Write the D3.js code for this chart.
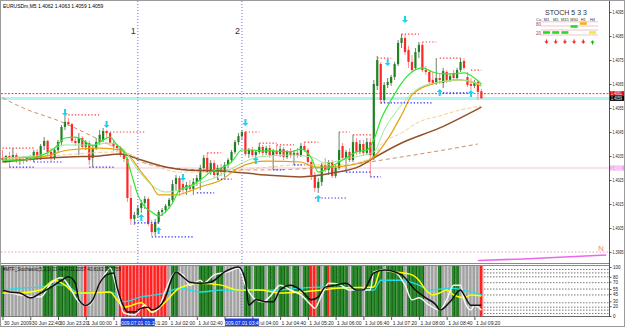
<!DOCTYPE html>
<html>
<head>
<meta charset="utf-8">
<script src="https://cdn.jsdelivr.net/npm/d3@7"></script>
<style>
  html, body { margin: 0; padding: 0; background: #fff; }
  svg { display: block; font-family: "Liberation Sans", Arial, sans-serif; }
</style>
</head>
<body>
<div id="chart"></div>
<script>
// EURUSDm M5, 30 Jun 22:00 -> 1 Jul 09:30, one entry per bar
const opens = [1.40342,1.40333,1.40350,1.40342,1.40354,1.40329,1.40338,1.40333,1.40342,1.40338,
  1.40367,1.40342,1.40392,1.40413,1.40367,1.40342,1.40375,1.40408,1.40471,1.40492,
  1.40483,1.40413,1.40404,1.40425,1.40388,1.40404,1.40342,1.40383,1.40408,1.40417,
  1.40454,1.40446,1.40404,1.40392,1.40383,1.40354,1.40338,1.40175,1.40088,1.40104,
  1.40133,1.40154,1.40171,1.40067,1.40033,1.40075,1.40117,1.40125,1.40142,1.40167,
  1.40233,1.40258,1.40233,1.40208,1.40229,1.40213,1.40242,1.40250,1.40300,1.40342,
  1.40283,1.40321,1.40271,1.40300,1.40283,1.40313,1.40333,1.40367,1.40408,1.40433,
  1.40450,1.40358,1.40375,1.40354,1.40367,1.40388,1.40363,1.40383,1.40354,1.40371,
  1.40358,1.40379,1.40346,1.40367,1.40354,1.40363,1.40354,1.40392,1.40375,1.40325,
  1.40271,1.40217,1.40242,1.40313,1.40292,1.40325,1.40267,1.40300,1.40392,1.40342,
  1.40367,1.40333,1.40408,1.40367,1.40400,1.40363,1.40408,1.40342,1.40642,1.40733,
  1.40583,1.40646,1.40654,1.40679,1.40733,1.40821,1.40842,1.40792,1.40742,1.40717,
  1.40783,1.40813,1.40708,1.40700,1.40667,1.40654,1.40675,1.40654,1.40700,1.40667,
  1.40696,1.40675,1.40708,1.40746,1.40679,1.40650,1.40642,1.40658,1.40620];
const highs = [1.40375,1.40354,1.40367,1.40383,1.40363,1.40346,1.40350,1.40346,1.40354,1.40375,
  1.40379,1.40400,1.40429,1.40417,1.40383,1.40383,1.40417,1.40479,1.40517,1.40508,
  1.40488,1.40425,1.40446,1.40433,1.40417,1.40413,1.40396,1.40425,1.40458,1.40467,
  1.40458,1.40450,1.40417,1.40400,1.40392,1.40375,1.40346,1.40229,1.40117,1.40146,
  1.40167,1.40183,1.40179,1.40083,1.40088,1.40125,1.40133,1.40150,1.40175,1.40250,
  1.40271,1.40267,1.40246,1.40242,1.40250,1.40258,1.40271,1.40313,1.40354,1.40363,
  1.40333,1.40333,1.40313,1.40317,1.40325,1.40342,1.40375,1.40417,1.40446,1.40458,
  1.40454,1.40383,1.40388,1.40375,1.40404,1.40396,1.40392,1.40396,1.40379,1.40396,
  1.40392,1.40388,1.40375,1.40383,1.40375,1.40383,1.40404,1.40408,1.40383,1.40333,
  1.40283,1.40258,1.40321,1.40342,1.40333,1.40333,1.40313,1.40450,1.40404,1.40375,
  1.40383,1.40438,1.40425,1.40417,1.40417,1.40425,1.40425,1.40667,1.40767,1.40742,
  1.40658,1.40675,1.40688,1.40742,1.40833,1.40858,1.40854,1.40808,1.40771,1.40800,
  1.40825,1.40825,1.40725,1.40708,1.40700,1.40758,1.40692,1.40717,1.40708,1.40692,
  1.40708,1.40717,1.40758,1.40758,1.40700,1.40675,1.40667,1.40667,1.40630];
const lows = [1.40325,1.40321,1.40304,1.40333,1.40321,1.40313,1.40317,1.40325,1.40329,1.40325,
  1.40333,1.40333,1.40375,1.40354,1.40325,1.40333,1.40367,1.40396,1.40458,1.40475,
  1.40404,1.40392,1.40354,1.40379,1.40375,1.40313,1.40304,1.40375,1.40396,1.40408,
  1.40429,1.40392,1.40371,1.40367,1.40346,1.40325,1.40158,1.40063,1.40063,1.40092,
  1.40113,1.40129,1.40058,1.40017,1.40017,1.40067,1.40100,1.40113,1.40129,1.40158,
  1.40208,1.40183,1.40196,1.40188,1.40200,1.40188,1.40225,1.40208,1.40283,1.40271,
  1.40271,1.40258,1.40250,1.40267,1.40263,1.40300,1.40321,1.40358,1.40396,1.40417,
  1.40350,1.40342,1.40346,1.40342,1.40358,1.40350,1.40354,1.40342,1.40292,1.40350,
  1.40346,1.40333,1.40338,1.40342,1.40313,1.40342,1.40346,1.40367,1.40308,1.40250,
  1.40200,1.40196,1.40225,1.40283,1.40271,1.40258,1.40258,1.40292,1.40333,1.40283,
  1.40325,1.40325,1.40354,1.40358,1.40350,1.40354,1.40263,1.40333,1.40625,1.40567,
  1.40571,1.40633,1.40642,1.40667,1.40725,1.40800,1.40771,1.40717,1.40700,1.40708,
  1.40758,1.40700,1.40688,1.40650,1.40646,1.40646,1.40650,1.40633,1.40654,1.40658,
  1.40667,1.40667,1.40700,1.40708,1.40638,1.40625,1.40633,1.40583,1.40590];
const closes = [1.40333,1.40350,1.40342,1.40354,1.40329,1.40338,1.40333,1.40342,1.40338,1.40367,
  1.40342,1.40392,1.40413,1.40367,1.40342,1.40375,1.40408,1.40471,1.40492,1.40483,
  1.40413,1.40404,1.40425,1.40388,1.40408,1.40333,1.40383,1.40408,1.40438,1.40454,
  1.40446,1.40404,1.40392,1.40383,1.40354,1.40338,1.40175,1.40088,1.40104,1.40133,
  1.40154,1.40171,1.40067,1.40033,1.40075,1.40117,1.40125,1.40142,1.40167,1.40233,
  1.40258,1.40200,1.40208,1.40229,1.40213,1.40242,1.40258,1.40300,1.40342,1.40283,
  1.40321,1.40271,1.40300,1.40283,1.40313,1.40333,1.40367,1.40408,1.40433,1.40450,
  1.40358,1.40375,1.40354,1.40367,1.40388,1.40363,1.40383,1.40354,1.40371,1.40358,
  1.40379,1.40346,1.40367,1.40354,1.40363,1.40354,1.40392,1.40375,1.40325,1.40271,
  1.40217,1.40242,1.40313,1.40292,1.40325,1.40267,1.40300,1.40375,1.40342,1.40367,
  1.40333,1.40408,1.40367,1.40400,1.40363,1.40408,1.40354,1.40650,1.40750,1.40583,
  1.40646,1.40658,1.40679,1.40733,1.40821,1.40842,1.40783,1.40742,1.40708,1.40783,
  1.40813,1.40708,1.40700,1.40658,1.40654,1.40675,1.40667,1.40704,1.40667,1.40683,
  1.40675,1.40708,1.40742,1.40717,1.40646,1.40642,1.40658,1.40617,1.40590];

// moving averages as [bar, price]
const maFast = [[0,1.40333],[5,1.40333],[11,1.40350],[15,1.40383],[18,1.40425],[21,1.40429],[24,1.40408],[26,1.40392],
  [28,1.40408],[31,1.40429],[33,1.40396],[35,1.40367],[37,1.40283],[39,1.40188],[41,1.40138],[43,1.40117],[45,1.40100],
  [47,1.40117],[49,1.40154],[51,1.40208],[54,1.40225],[57,1.40250],[60,1.40283],[63,1.40300],[66,1.40325],[69,1.40375],
  [72,1.40375],[75,1.40371],[78,1.40371],[83,1.40367],[86,1.40379],[89,1.40342],[91,1.40283],[93,1.40292],[96,1.40317],
  [99,1.40342],[102,1.40367],[105,1.40375],[107,1.40417],[109,1.40500],[112,1.40583],[115,1.40654],[118,1.40700],
  [121,1.40717],[124,1.40700],[127,1.40692],[130,1.40692],[133,1.40696],[136,1.40675],[138,1.40650]];
const maPale = [[0,1.40342],[11,1.40354],[18,1.40396],[25,1.40396],[31,1.40404],[35,1.40375],[39,1.40292],[43,1.40229],
  [47,1.40200],[51,1.40208],[57,1.40238],[63,1.40271],[68,1.40313],[74,1.40346],[83,1.40354],[89,1.40346],[93,1.40321],
  [100,1.40342],[107,1.40367],[110,1.40458],[115,1.40563],[120,1.40633],[126,1.40658],[132,1.40667],[138,1.40646]];
const maOrange = [[0,1.40342],[11,1.40346],[19,1.40375],[28,1.40383],[34,1.40375],[37,1.40342],[40,1.40283],[43,1.40229],
  [45,1.40188],[50,1.40188],[54,1.40204],[57,1.40221],[63,1.40250],[68,1.40300],[76,1.40329],[86,1.40325],[90,1.40304],
  [95,1.40304],[103,1.40321],[107,1.40346],[111,1.40420],[115,1.40521],[118,1.40604],[124,1.40650],[132,1.40667],[138,1.40642]];
const maTan = [[0,1.40333],[17,1.40354],[34,1.40367],[43,1.40313],[51,1.40283],[63,1.40283],[74,1.40300],[86,1.40313],
  [97,1.40313],[107,1.40346],[109,1.40396],[115,1.40446],[120,1.40492],[126,1.40517],[132,1.40542],[138,1.40558]];
const maBrown = [[0,1.40325],[9,1.40338],[19,1.40346],[28,1.40350],[34,1.40358],[40,1.40333],[47,1.40304],[53,1.40292],
  [63,1.40288],[76,1.40271],[86,1.40263],[95,1.40279],[103,1.40308],[107,1.40342],[115,1.40404],[126,1.40467],[138,1.40554]];
const maSlow = [[0,1.40592],[6,1.40550],[17,1.40492],[28,1.40417],[35,1.40367],[40,1.40325],[49,1.40300],[59,1.40292],
  [74,1.40292],[94,1.40304],[115,1.40346],[137,1.40400]];

// fractal levels [fromBar, toBar, price]
const resLevels = [[0,9,1.40383],[18,28,1.40521],[30,41,1.40450],[59,63,1.40363],[70,74,1.40450],[74,79,1.40404],
  [79,84,1.40396],[87,91,1.40408],[97,100,1.40450],[101,107,1.40438],[108,112,1.40758],[115,120,1.40858],
  [121,125,1.40825],[126,132,1.40758],[135,138,1.40708]];
const supLevels = [[2,9,1.40304],[9,17,1.40325],[25,32,1.40304],[38,45,1.40071],[43,55,1.40013],[56,61,1.40196],
  [62,66,1.40254],[78,81,1.40292],[84,87,1.40313],[90,99,1.40175],[99,106,1.40283],[106,109,1.40263],
  [109,124,1.40571],[126,135,1.40613]];

const downArrowBars = [18, 30, 52, 70, 111, 116];
const downArrowPrices = [1.40529, 1.40479, 1.40258, 1.40488, 1.40738, 1.40917];
const upArrowBars = [40, 45, 73, 91, 126, 135];
const upArrowPrices = [1.40096, 1.40042, 1.40333, 1.40175, 1.40617, 1.40613];

const bidPrice = 1.4059;
const askPrice = 1.4061;
const levelPrice = 1.4030;
const pivotPrice = 1.3995;
const magentaPts = [[137,1.39915],[150,1.39921],[162,1.39929],[174,1.39938]];

const priceTicks = [1.4095, 1.4085, 1.4075, 1.4065, 1.4055, 1.4045, 1.4035, 1.4025, 1.4015, 1.4005, 1.3995];
const timeTicks = [0, 8, 16, 24, 32, 40, 48, 56, 64, 72, 80, 88, 96, 104, 112, 120, 128, 136];
const timeLabels = ["30 Jun 2009", "30 Jun 22:40", "30 Jun 23:20", "1 Jul 00:00", "1 Jul 00:40", "1 Jul 01:20",
  "1 Jul 02:00", "1 Jul 02:40", "1 Jul 03:20", "1 Jul 04:00", "1 Jul 04:40", "1 Jul 05:20", "1 Jul 06:00",
  "1 Jul 06:40", "1 Jul 07:20", "1 Jul 08:00", "1 Jul 08:40", "1 Jul 09:20"];
const vlineBars = [39, 69];
const vlineNames = ["1", "2"];
const vlineTimes = ["2009.07.01 01:15", "2009.07.01 03:45"];

// stochastic window
const stochBlack = [[0,53],[2,49],[5,47],[8,37],[11,47],[14,59],[17,73],[19,80],[21,67],[22,33],[24,22],[26,33],[28,67],
  [30,84],[32,88],[33,59],[35,18],[36,8],[38,8],[40,16],[42,18],[43,12],[45,18],[47,39],[49,80],[50,90],[52,80],[54,69],
  [57,67],[60,69],[64,90],[68,100],[70,73],[71,22],[73,33],[76,29],[78,29],[80,53],[83,63],[86,53],[89,33],[91,39],
  [93,59],[96,63],[99,67],[102,53],[104,53],[107,88],[110,94],[115,84],[119,53],[122,37],[125,22],[126,12],[129,29],
  [132,53],[133,43],[135,22],[138,22]];
const stochWhite = [[0,53],[5,43],[11,39],[14,67],[17,78],[19,63],[22,29],[25,22],[28,67],[30,90],[31,98],[33,53],[35,6],
  [38,2],[41,22],[43,8],[45,16],[47,53],[50,90],[52,84],[54,63],[57,73],[58,67],[61,84],[65,90],[68,98],[70,63],[73,33],
  [75,29],[77,39],[80,63],[83,53],[86,43],[89,22],[90,16],[92,43],[94,67],[97,65],[100,53],[106,53],[107,90],[110,94],
  [113,90],[116,63],[118,33],[120,37],[123,22],[126,12],[128,33],[130,63],[132,63],[133,33],[135,12],[136,22],[138,12]];
const stochYellow = [[0,47],[5,47],[11,53],[15,73],[18,63],[21,47],[25,47],[31,49],[33,33],[35,18],[40,27],[43,8],[45,16],
  [47,29],[51,57],[57,67],[63,63],[68,53],[74,53],[80,47],[86,49],[92,53],[97,57],[107,59],[109,94],[113,90],[118,84],
  [120,73],[122,53],[124,43],[126,47],[128,53],[130,43],[133,37],[135,43],[138,41]];
const stochCyan = [[0,53],[5,57],[11,59],[15,63],[18,63],[22,47],[28,49],[32,47],[35,29],[40,39],[44,43],[47,47],[51,57],
  [57,49],[63,53],[68,53],[74,53],[80,53],[86,57],[92,59],[97,57],[103,53],[107,53],[109,73],[115,73],[120,63],[123,53],
  [129,57],[135,49],[138,43]];
// background state per bar: g = green, s = grey, r = red
const stripeRuns = [["g",1],["s",11],["g",3],["s",1],["g",6],["s",2],["r",1],["s",5],["g",3],["s",1],["r",14],["s",1],
  ["g",2],["s",6],["g",4],["s",1],["g",2],["s",6],["g",2],["s",1],["g",3],["s",1],["g",2],["s",1],["g",3],["s",1],
  ["g",2],["s",1],["g",2],["r",2],["g",1],["s",1],["g",1],["r",1],["g",5],["s",1],["g",3],["s",1],["g",2],["g",3],
  ["s",1],["g",5],["s",1],["g",5],["s",4],["g",1],["s",3],["g",2],["s",6],["r",1]];
const stochLevels = [95, 88, 80, 68, 55, 43, 27, 18, 12, 5];
const stochLabels = [100, 80, 70, 55, 45, 30, 20, 0];

// multi timeframe STOCH panel
const legendTfs = ["M1", "M5", "M15", "M30", "H1", "H4"];
const legendLevel = [20, 20, 20, 60, 80, 20];
const legendColors = ["#22dd22", "#22dd22", "#22dd22", "#22dd22", "#f0b020", "#eeee30"];
const legendDirs = ["down", "down", "down", "down", "down", "up"];

const W = 625, H = 327;
const axisX = 609;

const x = d3.scaleLinear().domain([0, 138]).range([2.5, 2.5 + 138 * 3.47]);
const y = d3.scaleLinear().domain([1.3995, 1.4095]).range([252, 12]);
const ys = d3.scaleLinear().domain([0, 100]).range([316, 267]);
const step = 3.47;

const svg = d3.select("#chart").append("svg").attr("width", W).attr("height", H);
svg.append("rect").attr("width", W).attr("height", H).attr("fill", "#fff");

const defs = svg.append("defs");
defs.append("clipPath").attr("id", "clipMain").append("rect")
  .attr("x", 1).attr("y", 1).attr("width", axisX - 1).attr("height", 262);
defs.append("clipPath").attr("id", "clipSub").append("rect")
  .attr("x", 1).attr("y", 266).attr("width", axisX - 1).attr("height", 50.5);

const main = svg.append("g").attr("clip-path", "url(#clipMain)");

function hline(g, price, color, width, dash) {
  g.append("line")
    .attr("x1", 1).attr("x2", axisX)
    .attr("y1", y(price)).attr("y2", y(price))
    .attr("stroke", color).attr("stroke-width", width)
    .attr("stroke-dasharray", dash || null);
}

hline(main, levelPrice, "#f3c4d6", 1);
hline(main, pivotPrice, "#e7a0a6", 1, "1.5,2");
hline(main, bidPrice, "#b4f2f4", 3);
hline(main, askPrice, "#ff3a3a", 1, "2,1.5");

main.append("path")
  .attr("d", d3.line().x(d => x(d[0])).y(d => y(d[1]))(magentaPts))
  .attr("fill", "none").attr("stroke", "#ee66ee").attr("stroke-width", 1.5);
main.append("text").attr("x", 598).attr("y", 251).attr("font-size", "8px")
  .attr("fill", "#e08a8a").text("N");

// candles
const bars = opens.map((o, i) => ({ i, o, h: highs[i], l: lows[i], c: closes[i] }));
main.selectAll("line.wick").data(bars).join("line")
  .attr("class", "wick")
  .attr("x1", d => x(d.i)).attr("x2", d => x(d.i))
  .attr("y1", d => y(d.h)).attr("y2", d => y(d.l))
  .attr("stroke", d => d.c >= d.o ? "#6f806f" : "#ff8c8c")
  .attr("stroke-width", 1);
main.selectAll("rect.body").data(bars).join("rect")
  .attr("class", "body")
  .attr("x", d => x(d.i) - 1.1)
  .attr("width", 2.2)
  .attr("y", d => y(Math.max(d.o, d.c)))
  .attr("height", d => Math.max(1, Math.abs(y(d.o) - y(d.c))))
  .attr("fill", d => d.c >= d.o ? "#1f821f" : "#ff2828");

// moving averages
const maLine = d3.line().x(d => x(d[0])).y(d => y(d[1])).curve(d3.curveMonotoneX);
const maStyles = [
  [maSlow, "#c9906f", 1, "4,3"],
  [maTan, "#f4cf92", 1, "4,2"],
  [maBrown, "#93502a", 1.5, null],
  [maOrange, "#e6a10c", 1.2, null],
  [maPale, "#9be89b", 1, null],
  [maFast, "#2fe82f", 1.2, null]
];
maStyles.forEach(([pts, color, w, dash]) => {
  main.append("path")
    .attr("d", maLine(pts))
    .attr("fill", "none")
    .attr("stroke", color)
    .attr("stroke-width", w)
    .attr("stroke-dasharray", dash);
});

// fractal levels
main.selectAll("line.res").data(resLevels).join("line")
  .attr("x1", d => x(d[0])).attr("x2", d => x(d[1]))
  .attr("y1", d => y(d[2])).attr("y2", d => y(d[2]))
  .attr("stroke", "#ff3838").attr("stroke-width", 1.2).attr("stroke-dasharray", "1.3,2");
main.selectAll("line.sup").data(supLevels).join("line")
  .attr("x1", d => x(d[0])).attr("x2", d => x(d[1]))
  .attr("y1", d => y(d[2])).attr("y2", d => y(d[2]))
  .attr("stroke", "#2c2cff").attr("stroke-width", 1.2).attr("stroke-dasharray", "1.3,2");

// arrows
function arrowPath(cx, cy, down) {
  const s = down ? 1 : -1;
  return `M${cx - 1},${cy - 4 * s} h2 v${4 * s} h2 l-3,${3 * s} l-3,${-3 * s} h2 z`;
}
downArrowBars.forEach((b, k) => {
  main.append("path").attr("d", arrowPath(x(b), y(downArrowPrices[k]), true)).attr("fill", "#19d3ef");
});
upArrowBars.forEach((b, k) => {
  main.append("path").attr("d", arrowPath(x(b), y(upArrowPrices[k]), false)).attr("fill", "#19d3ef");
});

// window separators
[263.5, 265.5].forEach(yy => {
  svg.append("line").attr("x1", 0).attr("x2", axisX).attr("y1", yy).attr("y2", yy)
    .attr("stroke", "#8a8a8a").attr("stroke-width", 1);
});
svg.append("line").attr("x1", 0).attr("x2", axisX).attr("y1", 316.5).attr("y2", 316.5)
  .attr("stroke", "#666").attr("stroke-width", 1);

// stochastic sub window
const sub = svg.append("g").attr("clip-path", "url(#clipSub)");
stochLevels.forEach(v => {
  sub.append("line").attr("x1", 1).attr("x2", axisX)
    .attr("y1", ys(v)).attr("y2", ys(v))
    .attr("stroke", "#555").attr("stroke-width", 0.8).attr("stroke-dasharray", "1.5,1.5");
});
const states = stripeRuns.flatMap(([s, n]) => Array(n).fill(s));
const baseColor = { g: "#2b8a2b", s: "#a2a2a2", r: "#ff2020" };
const stripeColor = { g: "#175c17", s: "#d6d6d6", r: "#ff9a9a" };
sub.selectAll("rect.col").data(states).join("rect")
  .attr("x", (d, i) => x(i) - step / 2)
  .attr("y", 266).attr("width", step + 0.1).attr("height", 50.5)
  .attr("fill", d => baseColor[d]);
sub.selectAll("rect.stripe").data(states).join("rect")
  .attr("x", (d, i) => x(i) + 0.6)
  .attr("y", 266).attr("width", 0.9).attr("height", 50.5)
  .attr("fill", d => stripeColor[d]);

// vertical lines cross both windows
vlineBars.forEach((b, k) => {
  svg.append("line").attr("x1", x(b)).attr("x2", x(b)).attr("y1", 1).attr("y2", 317)
    .attr("stroke", "#6c6cff").attr("stroke-width", 1).attr("stroke-dasharray", "1,2");
  svg.append("text").attr("x", x(b) - 7).attr("y", 34).attr("font-size", "9px")
    .attr("fill", "#333").text(vlineNames[k]);
});

const stLine = d3.line().x(d => x(d[0])).y(d => ys(d[1])).curve(d3.curveMonotoneX);
[[stochCyan, "#22dde6", 1.3], [stochYellow, "#ffff00", 1.5], [stochWhite, "#f5f5f5", 1.5], [stochBlack, "#111", 1.5]]
  .forEach(([pts, color, w]) => {
    sub.append("path").attr("d", stLine(pts))
      .attr("fill", "none").attr("stroke", color).attr("stroke-width", w);
  });

svg.append("text").attr("x", 3).attr("y", 271).attr("font-size", "4.5px").attr("fill", "#111")
  .text("#MTF_Stochastic(5,3,3)  23.4043  31.2057  40.8163  38.7755");

// price axis
svg.append("line").attr("x1", axisX + 0.5).attr("x2", axisX + 0.5).attr("y1", 0).attr("y2", 317)
  .attr("stroke", "#555");
const yAxis = svg.append("g").attr("transform", `translate(${axisX + 0.5},0)`)
  .call(d3.axisRight(y).tickValues(priceTicks).tickFormat(d3.format(".4f")).tickSize(2).tickPadding(1));
yAxis.select(".domain").remove();
yAxis.selectAll("text").attr("font-size", "4.6px").attr("fill", "#222")
  .attr("textLength", 11).attr("lengthAdjust", "spacingAndGlyphs");
yAxis.selectAll("line").attr("stroke", "#555");

const sAxis = svg.append("g").attr("transform", `translate(${axisX + 0.5},0)`)
  .call(d3.axisRight(ys).tickValues(stochLabels).tickFormat(d3.format("d")).tickSize(2).tickPadding(1.5));
sAxis.select(".domain").remove();
sAxis.selectAll("text").attr("font-size", "4.5px").attr("fill", "#222");
sAxis.selectAll("line").attr("stroke", "#555");

function priceTag(price, bg, fg, label) {
  svg.append("rect").attr("x", axisX + 1).attr("y", y(price) - 2.5).attr("width", 14.5).attr("height", 5)
    .attr("fill", bg);
  svg.append("text").attr("x", axisX + 2).attr("y", y(price) + 1.7).attr("font-size", "4.6px")
    .attr("textLength", 11).attr("lengthAdjust", "spacingAndGlyphs")
    .attr("fill", fg).text(label);
}
priceTag(levelPrice, "#f0a8ee", "#ffffff", levelPrice.toFixed(4));
priceTag(askPrice, "#d80f0f", "#ffffff", askPrice.toFixed(4));
priceTag(bidPrice, "#000000", "#ffffff", bidPrice.toFixed(4));

// time axis
const xAxis = svg.append("g").attr("transform", "translate(0,317)")
  .call(d3.axisBottom(x).tickValues(timeTicks).tickFormat((d, i) => timeLabels[i]).tickSize(3).tickPadding(1));
xAxis.select(".domain").remove();
xAxis.selectAll("line").attr("stroke", "#555");
xAxis.selectAll("text").attr("text-anchor", "start").attr("x", 1).attr("font-size", "5px").attr("fill", "#222");

vlineBars.forEach((b, k) => {
  svg.append("rect").attr("x", x(b) - 17).attr("y", 318.5).attr("width", 34).attr("height", 7.5)
    .attr("fill", "#1d3fdc");
  svg.append("text").attr("x", x(b)).attr("y", 324.5).attr("text-anchor", "middle")
    .attr("font-size", "5px").attr("fill", "#fff").text(vlineTimes[k]);
});

// header
svg.append("text").attr("x", 3).attr("y", 8).attr("font-size", "5px").attr("fill", "#000")
  .text("EURUSDm,M5  1.4062 1.4063 1.4059 1.4059");

// STOCH legend
const lg = svg.append("g");
lg.append("text").attr("x", 566).attr("y", 15).attr("text-anchor", "middle")
  .attr("font-size", "7px").attr("fill", "#333").text("STOCH  5 3 3");
const colX = d3.scalePoint().domain(legendTfs).range([546.5, 592.5]);
const lvlY = d3.scaleLinear().domain([20, 80]).range([32.5, 23.5]);
lg.append("text").attr("x", 536).attr("y", 20.5).attr("font-size", "4px").attr("fill", "#333").text("Cu");
legendTfs.forEach(tf => {
  lg.append("text").attr("x", colX(tf)).attr("y", 20.5).attr("text-anchor", "middle")
    .attr("font-size", "4px").attr("fill", "#333").text(tf);
});
[21.8, 26, 30, 35].forEach(yy => {
  lg.append("line").attr("x1", 541).attr("x2", 598).attr("y1", yy).attr("y2", yy)
    .attr("stroke", "#e2a0a0").attr("stroke-width", 0.6);
});
lg.append("text").attr("x", 536).attr("y", 26).attr("font-size", "4.5px").attr("fill", "#b04040").text("80");
lg.append("text").attr("x", 536).attr("y", 34.5).attr("font-size", "4.5px").attr("fill", "#b04040").text("20");
legendTfs.forEach((tf, k) => {
  lg.append("rect").attr("x", colX(tf) - 3.5).attr("y", lvlY(legendLevel[k]) - 1.3)
    .attr("width", 7).attr("height", 2.6).attr("fill", legendColors[k]);
  const cx = colX(tf), cy = 42;
  const down = legendDirs[k] === "down";
  lg.append("path")
    .attr("d", down
      ? `M${cx - 0.6},${cy - 2.5} h1.2 v2 h1.6 l-2.2,2.3 l-2.2,-2.3 h1.6 z`
      : `M${cx - 0.6},${cy + 2.5} h1.2 v-2 h1.6 l-2.2,-2.3 l-2.2,2.3 h1.6 z`)
    .attr("fill", down ? "#ee2222" : "#22aa22");
});

// outer frame
svg.append("rect").attr("x", 0.5).attr("y", 0.5).attr("width", W - 1).attr("height", H - 1)
  .attr("fill", "none").attr("stroke", "#9a9a9a");
</script>
</body>
</html>
